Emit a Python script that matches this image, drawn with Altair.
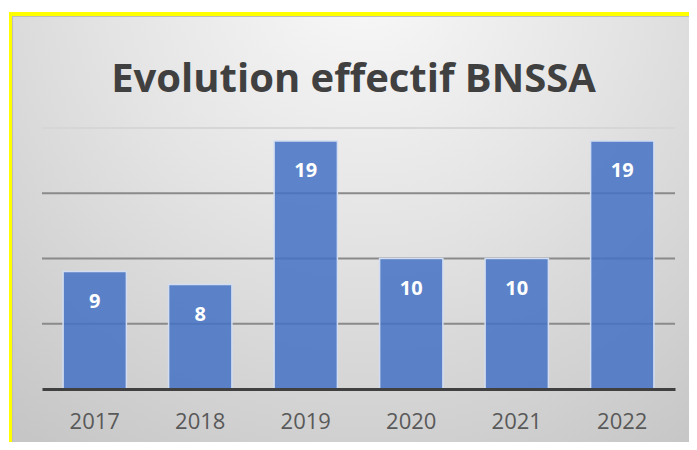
import altair as alt
import pandas as pd

# ---- data ----
years = ["2017", "2018", "2019", "2020", "2021", "2022"]
values = [9, 8, 19, 10, 10, 19]
grid_values = [5, 10, 15, 20]
title_text = "Evolution effectif BNSSA"

df = pd.DataFrame({"year": years, "value": values})
grid_df = pd.DataFrame({"v": grid_values})
one = pd.DataFrame({"k": [0]})

W, H = 633, 261
RIGHT, BOTTOM = 647, 314
yscale = alt.Scale(domain=[0, 20])

# background panel (white margin, yellow frame, grey gradient panel)
bg_white = alt.Chart(one).mark_rect(color="white").encode(
    x=alt.value(-34), x2=alt.value(RIGHT), y=alt.value(-120), y2=alt.value(BOTTOM))
bg_yellow = alt.Chart(one).mark_rect(color="#ffff00").encode(
    x=alt.value(-33), x2=alt.value(RIGHT), y=alt.value(-116), y2=alt.value(BOTTOM))
bg_edge = alt.Chart(one).mark_rect(color="#bdbdbd").encode(
    x=alt.value(-30), x2=alt.value(RIGHT), y=alt.value(-112), y2=alt.value(BOTTOM))
bg_grad = alt.Chart(one).mark_rect(
    color=alt.RadialGradient(
        gradient="radial",
        x1=0.52, y1=0.12, r1=0.0,
        x2=0.52, y2=0.12, r2=0.85,
        stops=[alt.GradientStop(color="#f9f9f9", offset=0),
               alt.GradientStop(color="#e4e4e4", offset=0.45),
               alt.GradientStop(color="#c6c6c6", offset=1)],
    )
).encode(x=alt.value(-29), x2=alt.value(RIGHT), y=alt.value(-111), y2=alt.value(BOTTOM))

grid = alt.Chart(grid_df).mark_rule(strokeWidth=2).encode(
    y=alt.Y("v:Q", scale=yscale, axis=None),
    color=alt.condition(alt.datum.v == 20, alt.value("#d6d6d6"), alt.value("#8a8a8a")),
)

xenc = alt.X(
    "year:N", sort=years,
    scale=alt.Scale(paddingInner=0.4, paddingOuter=0.2),
    axis=alt.Axis(title=None, labelAngle=0, ticks=False, tickSize=0,
                  domainColor="#404040", domainWidth=3, grid=False,
                  labelFont="Open Sans", labelFontSize=22, labelColor="#595959",
                  labelPadding=39, labelBaseline="alphabetic", zindex=1),
)

bars = alt.Chart(df).mark_bar(
    color="#4472c4", fillOpacity=0.85, stroke="#d2ddf1", strokeWidth=1.5
).encode(x=xenc, y=alt.Y("value:Q", scale=yscale, axis=None))

labels = alt.Chart(df).mark_text(
    font="Open Sans", fontSize=20, fontWeight="bold", color="white",
    baseline="alphabetic", dy=36
).encode(x=alt.X("year:N", sort=years), y=alt.Y("value:Q", scale=yscale, axis=None),
         text="value:Q")

chart = alt.layer(bg_white, bg_yellow, bg_edge, bg_grad, grid, bars, labels).properties(
    width=W, height=H,
    padding=0,
    title=alt.TitleParams(title_text, font="Open Sans", fontSize=40, fontWeight="bold",
                          color="#404040", baseline="alphabetic", offset=-124,
                          anchor="middle", dx=-5),
).configure(background="white").configure_view(stroke=None)

chart.save("out.html", embed_options={"renderer": "svg", "actions": False})
